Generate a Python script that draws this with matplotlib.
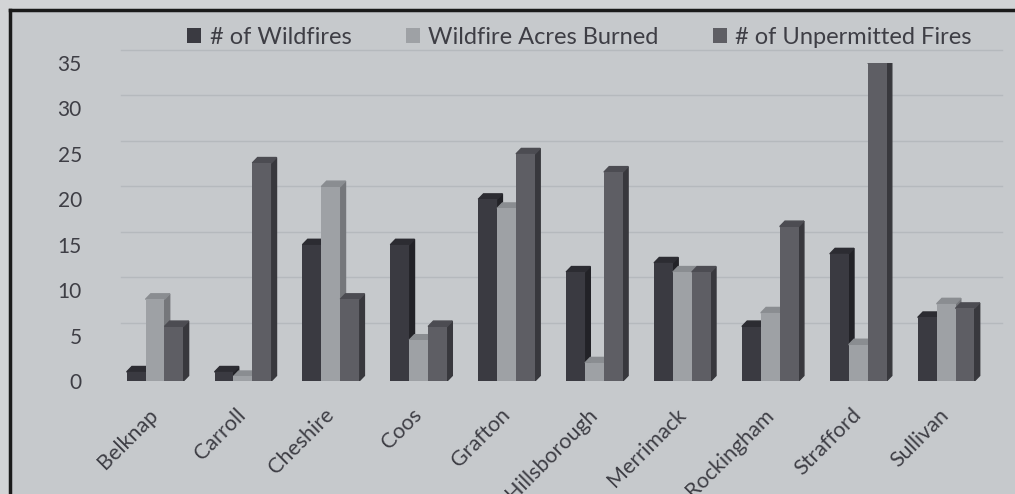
import matplotlib
matplotlib.use('Agg')
import matplotlib.pyplot as plt
from matplotlib.patches import Polygon, Patch, Rectangle
from matplotlib.lines import Line2D
from matplotlib.transforms import offset_copy, ScaledTranslation
import numpy as np

# data
counties = ['Belknap', 'Carroll', 'Cheshire', 'Coos', 'Grafton',
            'Hillsborough', 'Merrimack', 'Rockingham', 'Strafford', 'Sullivan']
wildfires = [1, 1, 15, 15, 20, 12, 13, 6, 14, 7]
acres_burned = [9, 0.5, 21.4, 4.5, 19, 2, 12, 7.5, 4, 8.5]
unpermitted = [6, 24, 9, 6, 25, 23, 12, 17, 35, 8]
yticks = [0, 5, 10, 15, 20, 25, 30, 35]

series_names = ['# of Wildfires', 'Wildfire Acres Burned', '# of Unpermitted Fires']
front_colors = ['#3a3a41', '#9ea1a5', '#5e5e64']
side_colors = ['#222227', '#75777b', '#38383d']
top_colors = ['#2c2c32', '#8a8d91', '#4c4c52']
hatches = [None, None, '//////']

plt.rcParams['font.family'] = ['Lato', 'DejaVu Sans']
plt.rcParams['hatch.linewidth'] = 0.6
plt.rcParams['hatch.color'] = '#727278'
text_color = '#3e3e45'

fig = plt.figure(figsize=(10.15, 4.94), dpi=100, facecolor='#c6c9cc')
ax = fig.add_axes([0.1094, 0.2287, 0.866, 0.6437])
ax.set_facecolor('none')

# light strip outside the scanned frame + the frame lines
fig.add_artist(Rectangle((0, 0), 0.0098, 1, transform=fig.transFigure, color='#d2d4d6', zorder=0))
fig.add_artist(Rectangle((0, 0.98), 1, 0.02, transform=fig.transFigure, color='#d2d4d6', zorder=0))
fig.add_artist(Line2D([0.0098, 1], [0.98, 0.98], transform=fig.transFigure, color='#1a1a1a', lw=2.5))
fig.add_artist(Line2D([0.0098, 0.0098], [0, 0.98], transform=fig.transFigure, color='#1a1a1a', lw=2.5))

# back-wall gridlines, shifted up/right for the 3D look
grid_tr = offset_copy(ax.transData, fig=fig, x=3, y=13, units='dots')
for v in yticks[1:]:
    ax.plot([-0.42, 9.6], [v, v], transform=grid_tr, color='#b5b9bd', lw=1.0,
            zorder=1, clip_on=False)

width = 0.215
dx = 0.06   # depth in category units
dy = 0.6    # depth in value units
x = np.arange(len(counties))
series = [wildfires, acres_burned, unpermitted]

z = 3
for i in range(len(counties)):
    for s, vals in enumerate(series):
        left = x[i] + (s - 1.5) * width
        h = vals[i]
        right = left + width
        side = Polygon([(right, 0), (right + dx, dy), (right + dx, h + dy), (right, h)],
                       closed=True, color=side_colors[s], zorder=z)
        top = Polygon([(left, h), (left + dx, h + dy), (right + dx, h + dy), (right, h)],
                      closed=True, color=top_colors[s], zorder=z + 1)
        ax.add_patch(side)
        ax.add_patch(top)
        ax.bar(left, h, width=width, align='edge', facecolor=front_colors[s],
               edgecolor='none', hatch=hatches[s], zorder=z + 2)
        z += 3

ax.set_xlim(-0.5, 9.5)
ax.set_ylim(0, 35)
ax.set_yticks(yticks)
ax.set_xticks(x, counties, rotation=45, ha='right', rotation_mode='anchor')
ax.tick_params(axis='y', length=0, labelsize=15, labelcolor=text_color, pad=21)
ax.tick_params(axis='x', length=0, labelsize=15.5, labelcolor=text_color, pad=17)
shift = ScaledTranslation(-7 / 100, 0, fig.dpi_scale_trans)
for lab in ax.get_xticklabels():
    lab.set_transform(lab.get_transform() + shift)
for sp in ax.spines.values():
    sp.set_visible(False)

handles = [Patch(facecolor=c, hatch=hh, edgecolor='none') for c, hh in zip(front_colors, hatches)]
fig.legend(handles, series_names, loc='center', bbox_to_anchor=(0.571, 0.925), ncol=3,
           frameon=False, fontsize=17, handlelength=0.6, handleheight=0.6,
           handletextpad=0.35, columnspacing=2.3, labelcolor=text_color)

fig.savefig('out.png', dpi=100, facecolor=fig.get_facecolor())
